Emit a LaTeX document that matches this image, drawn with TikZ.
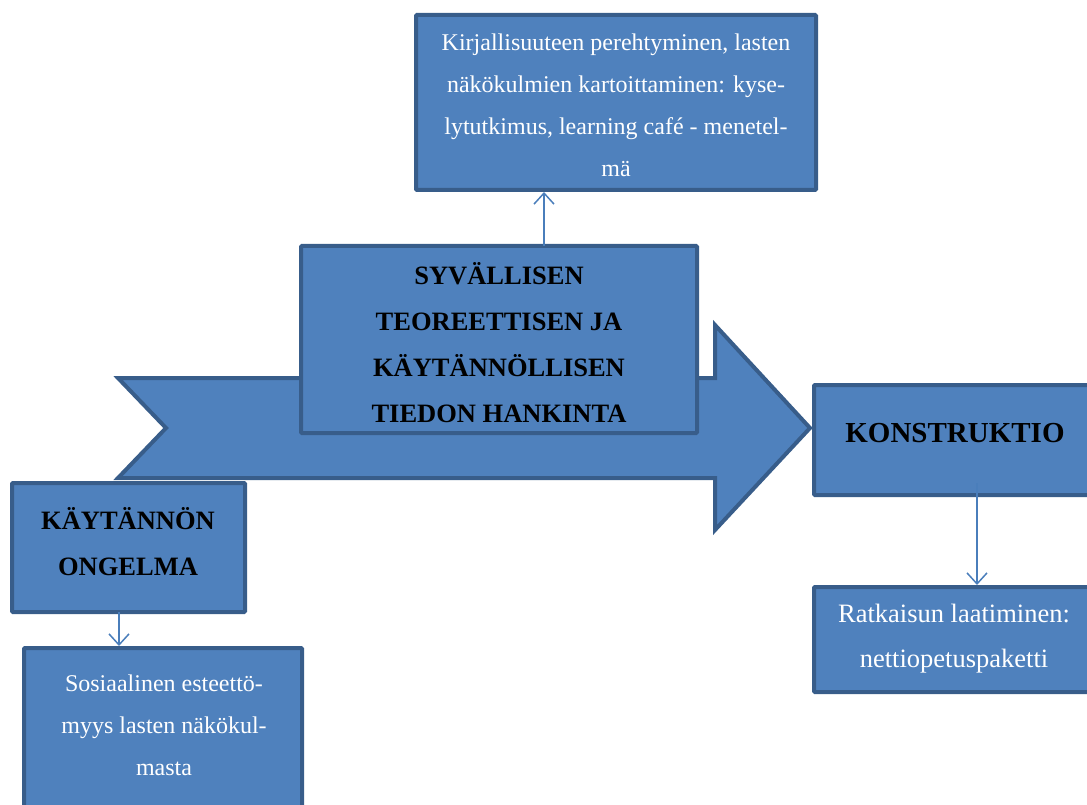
\documentclass[tikz,border=0pt]{standalone}
\usepackage{fontspec}
\setmainfont{Liberation Serif}
\newfontfamily\boxfont{Liberation Serif}
\usetikzlibrary{arrows.meta}

\definecolor{boxfill}{HTML}{4F81BD}
\definecolor{boxline}{HTML}{385D8A}
\definecolor{linkline}{HTML}{4A7EBB}

\begin{document}
\begin{tikzpicture}[x=1pt, y=-1pt, line width=4pt,
  box/.style={draw=boxline, fill=boxfill, rectangle, rounded corners=1pt, inner sep=0pt},
  plain/.style={text=white, align=center, font=\boxfont\fontsize{24}{42}\selectfont},
  heavy/.style={text=black, align=center, font=\boxfont\fontsize{26.5}{46}\selectfont\bfseries},
  link/.style={draw=linkline, line width=1.5pt, -{Straight Barb[length=11pt,width=20pt]}}]

\useasboundingbox (0,0) rectangle (1087,805);

% the big arrow behind the middle box
\draw[draw=boxline, fill=boxfill, line join=miter] (118,378) -- (715,378) -- (715,325)
  -- (810,428) -- (715,530) -- (715,478) -- (118,478) -- (166,428) -- cycle;

\node[box, minimum width=400pt, minimum height=175pt] (lit) at (616,102.5) {};
\node[box, minimum width=396pt, minimum height=187pt] (mid) at (499,339.5) {};
\node[box, minimum width=282pt, minimum height=110pt] (konst) at (955,440) {};
\node[box, minimum width=282pt, minimum height=105pt] (ratk) at (955,639.5) {};
\node[box, minimum width=233pt, minimum height=129pt] (kayt) at (128.5,547.5) {};
\node[box, minimum width=278pt, minimum height=187pt] (sos) at (163,741.5) {};

\node[plain] (littext) at (616,105) {Kirjallisuuteen perehtyminen, lasten\\
  näkökulmien kartoittaminen: kyse-\\lytutkimus, learning café - menetel-\\mä};
\begin{scope}
  \clip (mid.north west) rectangle ([yshift=8pt]mid.south east);
  \node[heavy] (midtext) at (499,343) {SYVÄLLISEN\\TEOREETTISEN JA\\
    KÄYTÄNNÖLLISEN\\TIEDON HANKINTA};
\end{scope}
\node[heavy, font=\boxfont\fontsize{29}{46}\selectfont\bfseries] (konsttext) at (955,433) {KONSTRUKTIO};
\node[plain, font=\boxfont\fontsize{26.5}{45}\selectfont] (ratktext) at (954,639) {Ratkaisun laatiminen:\\nettiopetuspaketti};
\node[heavy] (kayttext) at (128,542) {KÄYTÄNNÖN\\ONGELMA};
\node[plain] (sostext) at (164,725) {Sosiaalinen esteettö-\\myys lasten näkökul-\\masta};

% connectors
\coordinate (midtop) at (544,246);
\coordinate (konstfoot) at (977,483);
\coordinate (kaytfoot) at (119,612);
\draw[link] (midtop) -- (midtop |- lit.south);
\draw[link] (konstfoot) -- (konstfoot |- ratk.north);
\draw[link] (kaytfoot) -- (kaytfoot |- sos.north);
\end{tikzpicture}
\end{document}
